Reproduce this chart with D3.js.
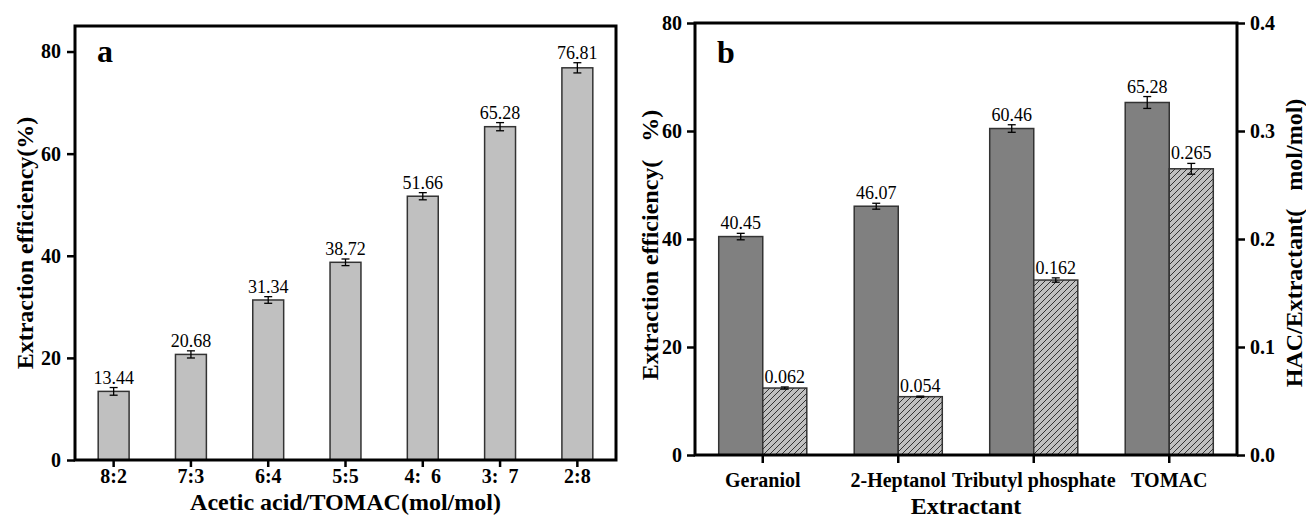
<!DOCTYPE html>
<html>
<head>
<meta charset="utf-8">
<script src="https://cdn.jsdelivr.net/npm/d3@7"></script>
<style>
body { margin: 0; background: #fff; }
svg text { font-family: "Liberation Serif", "Times New Roman", serif; }
</style>
</head>
<body>
<svg id="fig"></svg>
<script>
// panel a
const ratios = ['8:2', '7:3', '6:4', '5:5', '4:\u00a0\u00a06', '3:\u00a0\u00a07', '2:8'];
const effA = [13.44, 20.68, 31.34, 38.72, 51.66, 65.28, 76.81];
const errA = [0.75, 0.7, 0.65, 0.65, 0.7, 0.8, 1.0];
const yTicksA = [0, 20, 40, 60, 80];

// panel b
const extractants = ['Geraniol', '2-Heptanol', 'Tributyl phosphate', 'TOMAC'];
const effB = [40.45, 46.07, 60.46, 65.28];
const errEffB = [0.6, 0.55, 0.7, 1.1];
const hacB = [0.062, 0.054, 0.162, 0.265];
const errHacB = [0.001, 0.0005, 0.002, 0.005];
const hacLabels = ['0.062', '0.054', '0.162', '0.265'];
const yTicksB = [0, 20, 40, 60, 80];
const y2TicksB = [0, 0.1, 0.2, 0.3, 0.4];

const svg = d3.select('#fig').attr('width', 1306).attr('height', 519);

// hatch fill for the HAC/extractant bars
const pat = svg.append('defs').append('pattern')
    .attr('id', 'hatch')
    .attr('patternUnits', 'userSpaceOnUse')
    .attr('width', 6).attr('height', 6);
pat.append('rect').attr('width', 6).attr('height', 6).attr('fill', '#c0c0c0');
pat.append('path')
    .attr('d', 'M-1,1 L1,-1 M0,6 L6,0 M5,7 L7,5')
    .attr('stroke', '#222').attr('stroke-width', 0.9);

function styleAxis(g) {
    g.select('.domain').remove();
    g.selectAll('.tick line').attr('stroke', '#000').attr('stroke-width', 2.5);
    g.selectAll('.tick text')
        .attr('fill', '#000')
        .style('font-size', '20px')
        .style('font-weight', 'bold')
        .style('font-family', '"Liberation Serif", serif');
}

function errorBars(g, data, cx, y) {
    const eg = g.append('g').attr('stroke', '#000').attr('stroke-width', 1.3);
    eg.selectAll('.v').data(data).join('line')
        .attr('x1', d => cx(d)).attr('x2', d => cx(d))
        .attr('y1', d => y(d.v - d.e)).attr('y2', d => y(d.v + d.e));
    eg.selectAll('.lo').data(data).join('line')
        .attr('x1', d => cx(d) - 4).attr('x2', d => cx(d) + 4)
        .attr('y1', d => y(d.v - d.e)).attr('y2', d => y(d.v - d.e));
    eg.selectAll('.hi').data(data).join('line')
        .attr('x1', d => cx(d) - 4).attr('x2', d => cx(d) + 4)
        .attr('y1', d => y(d.v + d.e)).attr('y2', d => y(d.v + d.e));
}

function valueLabels(g, data, cx, y, fmt) {
    g.append('g').selectAll('text').data(data).join('text')
        .attr('x', d => cx(d))
        .attr('y', d => y(d.v + d.e) - 4)
        .attr('text-anchor', 'middle')
        .style('font-size', '18px')
        .text(fmt);
}

function title(x, y, txt, rot) {
    svg.append('text')
        .attr('transform', `translate(${x},${y})` + (rot ? ' rotate(-90)' : ''))
        .attr('text-anchor', 'middle')
        .style('font-size', '24px')
        .style('font-weight', 'bold')
        .text(txt);
}

// ---------- a ----------
const a = {left: 75, right: 616, top: 26, bottom: 460};
const xA = d3.scaleBand().domain(ratios).range([a.left, a.right]).paddingInner(0.6).paddingOuter(0.3);
const yA = d3.scaleLinear().domain([0, 85]).range([a.bottom, a.top]);
const dataA = ratios.map((k, i) => ({k: k, v: effA[i], e: errA[i]}));

const gA = svg.append('g');
gA.selectAll('rect.bar').data(dataA).join('rect')
    .attr('class', 'bar')
    .attr('x', d => xA(d.k))
    .attr('width', xA.bandwidth())
    .attr('y', d => yA(d.v))
    .attr('height', d => yA(0) - yA(d.v))
    .attr('fill', '#c0c0c0')
    .attr('stroke', '#333')
    .attr('stroke-width', 1.5);
errorBars(gA, dataA, d => xA(d.k) + xA.bandwidth() / 2, yA);
valueLabels(gA, dataA, d => xA(d.k) + xA.bandwidth() / 2, yA, d => d.v.toFixed(2));

gA.append('g').attr('transform', `translate(${a.left},0)`)
    .call(d3.axisLeft(yA).tickValues(yTicksA).tickSize(8).tickPadding(6))
    .call(styleAxis);
gA.append('g').attr('transform', `translate(0,${a.bottom})`)
    .call(d3.axisBottom(xA).tickSize(7).tickPadding(2))
    .call(styleAxis);
gA.append('rect')
    .attr('x', a.left).attr('y', a.top)
    .attr('width', a.right - a.left).attr('height', a.bottom - a.top)
    .attr('fill', 'none').attr('stroke', '#000').attr('stroke-width', 3);
gA.append('text').attr('x', 97).attr('y', 62)
    .style('font-size', '32px').style('font-weight', 'bold').text('a');

title((a.left + a.right) / 2, 510, 'Acetic acid/TOMAC(mol/mol)', false);
title(33, (a.top + a.bottom) / 2, 'Extraction efficiency(%)', true);

// ---------- b ----------
const b = {left: 695, right: 1237, top: 23, bottom: 455};
const xB = d3.scaleBand().domain(extractants).range([b.left, b.right]).paddingInner(0.35).paddingOuter(0.175);
const xSub = d3.scaleBand().domain(['eff', 'hac']).range([0, xB.bandwidth()]);
const yB = d3.scaleLinear().domain([0, 80]).range([b.bottom, b.top]);
const y2B = d3.scaleLinear().domain([0, 0.4]).range([b.bottom, b.top]);

const effData = extractants.map((k, i) => ({k: k, v: effB[i], e: errEffB[i]}));
const hacData = extractants.map((k, i) => ({k: k, v: hacB[i], e: errHacB[i], lab: hacLabels[i]}));

const gB = svg.append('g');
gB.selectAll('rect.eff').data(effData).join('rect')
    .attr('class', 'eff')
    .attr('x', d => xB(d.k) + xSub('eff'))
    .attr('width', xSub.bandwidth())
    .attr('y', d => yB(d.v))
    .attr('height', d => yB(0) - yB(d.v))
    .attr('fill', '#808080')
    .attr('stroke', '#333')
    .attr('stroke-width', 1.5);
gB.selectAll('rect.hac').data(hacData).join('rect')
    .attr('class', 'hac')
    .attr('x', d => xB(d.k) + xSub('hac'))
    .attr('width', xSub.bandwidth())
    .attr('y', d => y2B(d.v))
    .attr('height', d => y2B(0) - y2B(d.v))
    .attr('fill', 'url(#hatch)')
    .attr('stroke', '#333')
    .attr('stroke-width', 1.5);

const cEff = d => xB(d.k) + xSub('eff') + xSub.bandwidth() / 2;
const cHac = d => xB(d.k) + xSub('hac') + xSub.bandwidth() / 2;
errorBars(gB, effData, cEff, yB);
errorBars(gB, hacData, cHac, y2B);
valueLabels(gB, effData, cEff, yB, d => d.v.toFixed(2));
valueLabels(gB, hacData, cHac, y2B, d => d.lab);

gB.append('g').attr('transform', `translate(${b.left},0)`)
    .call(d3.axisLeft(yB).tickValues(yTicksB).tickSize(8).tickPadding(5))
    .call(styleAxis);
gB.append('g').attr('transform', `translate(${b.right},0)`)
    .call(d3.axisRight(y2B).tickValues(y2TicksB).tickFormat(d3.format('.1f')).tickSize(8).tickPadding(5))
    .call(styleAxis);
gB.append('g').attr('transform', `translate(0,${b.bottom})`)
    .call(d3.axisBottom(xB).tickSize(8).tickPadding(10))
    .call(styleAxis);
gB.append('rect')
    .attr('x', b.left).attr('y', b.top)
    .attr('width', b.right - b.left).attr('height', b.bottom - b.top)
    .attr('fill', 'none').attr('stroke', '#000').attr('stroke-width', 3);
gB.append('text').attr('x', 717).attr('y', 63)
    .style('font-size', '32px').style('font-weight', 'bold').text('b');

title((b.left + b.right) / 2, 514, 'Extractant', false);
title(658, 245, 'Extraction efficiency(\u2002\u00a0%)', true);
title(1302, 243, 'HAC/Extractant(\u2002\u00a0mol/mol)', true);
</script>
</body>
</html>
